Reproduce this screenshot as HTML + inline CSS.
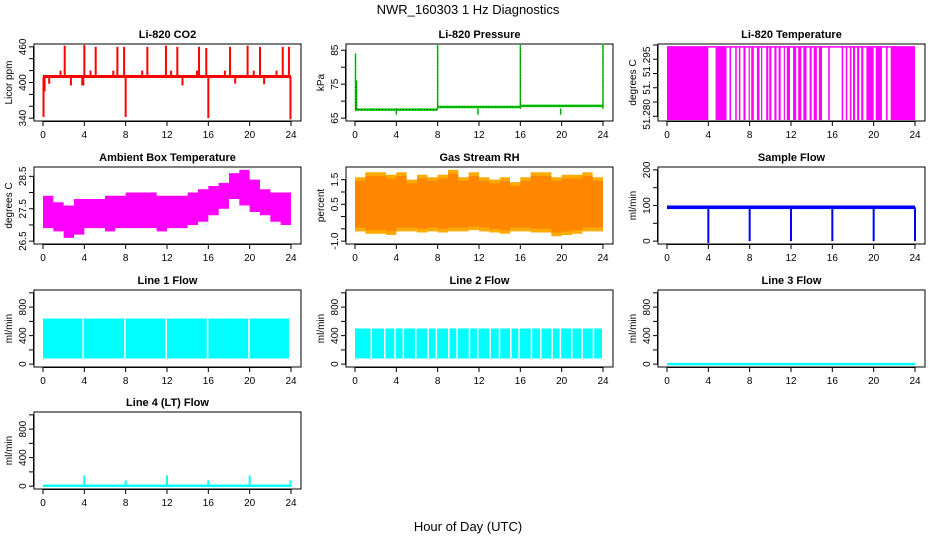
<!DOCTYPE html>
<html><head><meta charset="utf-8">
<style>
html,body{margin:0;padding:0;background:#fff;}
svg{display:block;font-family:"Liberation Sans",sans-serif;}
</style></head>
<body>
<svg id="fig" width="936" height="540" viewBox="0 0 936 540" xmlns="http://www.w3.org/2000/svg">
<text x="468" y="14" font-size="13" text-anchor="middle">NWR_160303  1 Hz Diagnostics</text>
<text x="468" y="531" font-size="13" text-anchor="middle">Hour of Day (UTC)</text>
</svg>
<script>
// ---- data ----
const xTicks = [0,4,8,12,16,20,24];
// CO2
const co2Base = 410;
const co2SpikeHours = [0.05,0.15,2.1,4.0,3.9,5.1,7.2,7.85,8.0,10.1,11.9,13.0,15.1,15.8,16.0,18.1,19.8,21.0,23.2,23.8,23.95,1.7,2.7,3.8,4.6,6.8,9.6,12.4,13.5,14.9,17.6,18.6,20.4,21.4,22.6,0.6];
const co2SpikeValues = [342,385,462,463,395,460,460,460,342,460,462,460,460,458,340,460,462,460,460,460,338,420,395,395,420,420,420,420,395,420,420,398,420,397,420,398];
// Pressure
const presLevelHours = [0,8,8,16,16,24];
const presLevelValues = [67.5,67.5,68.3,68.3,68.6,68.6];
const presSpikeHours = [0.05,8.0,16.0,24.0,0.15,4.0,11.9,19.9];
const presSpikeValues = [84,86.5,86.5,87,76,66,66,66];
// Li-820 temperature on-intervals (hours)
const tempOnStart = [0,4.7,6.05,6.6,6.95,7.4,7.9,8.15,8.7,9.1,9.6,9.9,10.4,10.8,11.3,11.6,12.2,12.7,13.2,13.8,14.2,14.7,15.6,16.9,17.3,17.7,18.0,18.4,18.8,19.3,20.2,21.2,21.65];
const tempOnEnd   = [4.0,5.76,6.2,6.75,7.1,7.6,8.0,8.4,8.95,9.2,9.8,10.1,10.6,11.0,11.4,11.9,12.5,13.0,13.5,14.0,14.5,15.0,15.75,17.05,17.45,17.85,18.2,18.6,19.0,20.0,20.8,21.35,24.0];
const tempLow = 51.279, tempHigh = 51.2985;
// Ambient box temperature hourly envelope
const ambMin = [26.9,26.8,26.6,26.7,26.9,26.9,26.8,26.9,26.9,26.9,26.9,26.8,26.9,26.9,27.0,27.1,27.3,27.5,27.8,27.6,27.4,27.3,27.1,27.0];
const ambMax = [27.9,27.7,27.6,27.8,27.8,27.8,27.9,27.9,28.0,28.0,28.0,27.9,27.9,27.9,28.0,28.1,28.2,28.3,28.6,28.7,28.4,28.1,28.0,28.0];
// Gas stream RH hourly envelope
const rhMin = [-0.6,-0.7,-0.7,-0.75,-0.6,-0.6,-0.65,-0.6,-0.65,-0.6,-0.6,-0.55,-0.6,-0.65,-0.7,-0.6,-0.6,-0.65,-0.65,-0.8,-0.75,-0.7,-0.6,-0.6];
const rhMax = [1.6,1.8,1.8,1.7,1.8,1.5,1.7,1.6,1.7,1.9,1.6,1.8,1.6,1.5,1.6,1.4,1.6,1.8,1.8,1.6,1.7,1.7,1.8,1.6];
// Sample flow
const sfBase = 95;
const sfDropHours = [4.0,8.0,12.0,16.0,20.0,24.0];
const sfDropValues = [-5,0,0,0,0,0];
// Line 1 flow
const l1Min = 80, l1Max = 640;
const l1GapHours = [3.9,7.95,11.95,15.95,19.95,23.9];
// Line 2 flow
const l2Min = 80, l2Max = 500;
const l2GapHours = [1.6,2.9,3.9,4.7,5.9,7.1,7.9,9.1,9.9,11.1,11.9,13.1,14.0,15.1,15.9,17.1,18.0,19.1,19.9,21.0,22.0,23.1];
// Line 3
const l3Value = 0;
// Line 4
const l4Base = 5;
const l4SpikeHours = [4.0,8.0,12.0,16.0,20.0,23.95];
const l4SpikeValues = [150,80,150,80,150,80];

// ---- layout ----
const NS = "http://www.w3.org/2000/svg";
const svg = document.getElementById('fig');
const colL = [34,346,658], rowT = [44,167,290,412], PW = 267, PH = 77;
function el(tag, attrs, parent){const e=document.createElementNS(NS,tag);for(const k in attrs)e.setAttribute(k,attrs[k]);(parent||svg).appendChild(e);return e;}

function panel(c, r, title, ylab, ymin, ymax, yticks, ylabels, name){
  const L=colL[c], T=rowT[r];
  const g=el('g',{});
  
  
  const x0=L+9, x1=L+PW-10;
  const yr=ymax-ymin, y0=ymin-0.04*yr, y1=ymax+0.04*yr;
  const X=h=>x0+(h/24)*(x1-x0);
  const Y=v=>T+PH-(v-y0)/(y1-y0)*PH;
  const box=el('rect',{x:L,y:T,width:PW,height:PH,fill:'none',stroke:'#000','stroke-width':1},g);
  
  
  const t=el('text',{x:L+PW/2,y:T-6,'font-size':11,'font-weight':'bold','text-anchor':'middle'},g);
  t.textContent=title;
  
  
  const yl=el('text',{x:0,y:0,'font-size':10,'text-anchor':'middle',transform:`translate(${L-22},${T+PH/2}) rotate(-90)`},g);
  yl.textContent=ylab;
  
  
  // x axis
  el('line',{x1:X(0),x2:X(24),y1:T+PH+0.5,y2:T+PH+0.5,stroke:'#000'},g);
  xTicks.forEach(h=>{
    el('line',{x1:X(h),x2:X(h),y1:T+PH,y2:T+PH+5,stroke:'#000'},g);
    const tx=el('text',{x:X(h),y:T+PH+17,'font-size':10,'text-anchor':'middle'},g);
    tx.textContent=h;
    
    
  });
  // y axis
  const ya=Y(yticks[0]), yb=Y(yticks[yticks.length-1]);
  el('line',{x1:L-0.5,x2:L-0.5,y1:ya,y2:yb,stroke:'#000'},g);
  yticks.forEach(v=>el('line',{x1:L-5,x2:L,y1:Y(v),y2:Y(v),stroke:'#000'},g));
  ylabels.forEach(([v,s])=>{
    const ty=el('text',{x:0,y:0,'font-size':10,'text-anchor':'middle',transform:`translate(${L-8},${Y(v)}) rotate(-90)`},g);
    ty.textContent=s;
    
    
  });
  const clip=el('g',{},g);
  
  
  return {X,Y,g:clip};
}
function vline(p,h,a,b,col,w){const l=el('line',{x1:p.X(h),x2:p.X(h),y1:p.Y(a),y2:p.Y(b),stroke:col,'stroke-width':w||1.5},p.g);return l;}
function band(p,hs,lo,hi,col){ // hourly envelope polygon
  let pts=[];
  hi.forEach((v,i)=>{pts.push(p.X(i)+','+p.Y(v));pts.push(p.X(i+1)+','+p.Y(v));});
  for(let i=lo.length-1;i>=0;i--){pts.push(p.X(i+1)+','+p.Y(lo[i]));pts.push(p.X(i)+','+p.Y(lo[i]));}
  return el('polygon',{points:pts.join(' '),fill:col},p.g);
}

// CO2
{const p=panel(0,0,'Li-820 CO2','Licor ppm',340,460,[340,360,380,400,420,440,460],[[340,'340'],[400,'400'],[460,'460']],'co2');
 const bl=el('line',{x1:p.X(0),x2:p.X(24),y1:p.Y(co2Base),y2:p.Y(co2Base),stroke:'#f00','stroke-width':3},p.g);
 
 co2SpikeHours.forEach((h,i)=>{const l=vline(p,h,co2Base,co2SpikeValues[i],'#f00',2);
  });}
// Pressure
{const p=panel(1,0,'Li-820 Pressure','kPa',65,86,[65,70,75,80,85],[[65,'65'],[75,'75'],[85,'85']],'pressure');
 for(let i=0;i<presLevelHours.length;i+=2){
  const l=el('line',{x1:p.X(presLevelHours[i]),x2:p.X(presLevelHours[i+1]),y1:p.Y(presLevelValues[i]),y2:p.Y(presLevelValues[i+1]),stroke:'#0c0','stroke-width':2.5},p.g);
  
  el('line',{x1:p.X(presLevelHours[i]),x2:p.X(presLevelHours[i+1]),y1:p.Y(presLevelValues[i]),y2:p.Y(presLevelValues[i+1]),stroke:'#000','stroke-width':0.6,'stroke-dasharray':'1 2'},p.g);}
 presSpikeHours.forEach((h,i)=>{const l=vline(p,h,67.8,presSpikeValues[i],'#0c0',1.5);
  
  const d=vline(p,h,67.8,presSpikeValues[i],'#000',0.6);d.setAttribute('stroke-dasharray','1 2');});}
// Li-820 temperature
{const p=panel(2,0,'Li-820 Temperature','degrees C',51.2795,51.2985,[51.280,51.2838,51.2876,51.2914,51.2952,51.299],[[51.2805,'51.280'],[51.2876,'51.'],[51.2945,'51.295']],'li820-temp');
 tempOnStart.forEach((s,i)=>{const r=el('rect',{x:p.X(s),y:p.Y(tempHigh),width:Math.max(1.2,p.X(tempOnEnd[i])-p.X(s)),height:p.Y(tempLow)-p.Y(tempHigh),fill:'#f0f'},p.g);
  });
 el('line',{x1:p.X(0),x2:p.X(24),y1:p.Y(tempHigh),y2:p.Y(tempHigh),stroke:'#f0f','stroke-width':1.5},p.g);}
// Ambient
{const p=panel(0,1,'Ambient Box Temperature','degrees C',26.5,28.7,[26.5,27,27.5,28,28.5],[[26.5,'26.5'],[27.5,'27.5'],[28.5,'28.5']],'ambient-temp');
 const b=band(p,null,ambMin,ambMax,'#f0f');}
// RH
{const p=panel(1,1,'Gas Stream RH','percent',-1.0,1.9,[-1,-0.5,0,0.5,1,1.5],[[-1,'-1.0'],[0.5,'0.5'],[1.5,'1.5']],'rh');
 const b=band(p,null,rhMin,rhMax,'#fa0');
 const b2=band(p,null,rhMin.map(v=>v+0.15),rhMax.map(v=>v-0.15),'#f70');b2.setAttribute('opacity','0.7');}
// Sample flow
{const p=panel(2,1,'Sample Flow','ml/min',0,200,[0,50,100,150,200],[[0,'0'],[100,'100'],[200,'200']],'sample-flow');
 const bl=el('rect',{x:p.X(0),y:p.Y(sfBase+5),width:p.X(24)-p.X(0),height:p.Y(sfBase-5)-p.Y(sfBase+5),fill:'#00f'},p.g);
 
 sfDropHours.forEach((h,i)=>{const l=vline(p,h,sfBase,sfDropValues[i],'#00f',2);});}
// Line 1
{const p=panel(0,2,'Line 1 Flow','ml/min',0,1000,[0,200,400,600,800,1000],[[0,'0'],[400,'400'],[800,'800']],'line1-flow');
 let s=0;[...l1GapHours,24].forEach(g=>{const r=el('rect',{x:p.X(s),y:p.Y(l1Max),width:p.X(g)-p.X(s)-1,height:p.Y(l1Min)-p.Y(l1Max),fill:'#0ff'},p.g);
  s=g+0.05;});}
// Line 2
{const p=panel(1,2,'Line 2 Flow','ml/min',0,1000,[0,200,400,600,800,1000],[[0,'0'],[400,'400'],[800,'800']],'line2-flow');
 let s=0;[...l2GapHours,24].forEach(g=>{const r=el('rect',{x:p.X(s),y:p.Y(l2Max),width:p.X(g)-p.X(s)-1,height:p.Y(l2Min)-p.Y(l2Max),fill:'#0ff'},p.g);
  s=g+0.05;});}
// Line 3
{const p=panel(2,2,'Line 3 Flow','ml/min',0,1000,[0,200,400,600,800,1000],[[0,'0'],[400,'400'],[800,'800']],'line3-flow');
 const l=el('line',{x1:p.X(0),x2:p.X(24),y1:p.Y(l3Value),y2:p.Y(l3Value),stroke:'#0ff','stroke-width':2.5},p.g);
 }
// Line 4
{const p=panel(0,3,'Line 4 (LT) Flow','ml/min',0,1000,[0,200,400,600,800,1000],[[0,'0'],[400,'400'],[800,'800']],'line4-flow');
 const l=el('line',{x1:p.X(0),x2:p.X(24),y1:p.Y(l4Base),y2:p.Y(l4Base),stroke:'#0ff','stroke-width':2.5},p.g);
 
 l4SpikeHours.forEach((h,i)=>{const s=vline(p,h,l4Base,l4SpikeValues[i],'#0ff',2);});}
</script>
</body></html>
